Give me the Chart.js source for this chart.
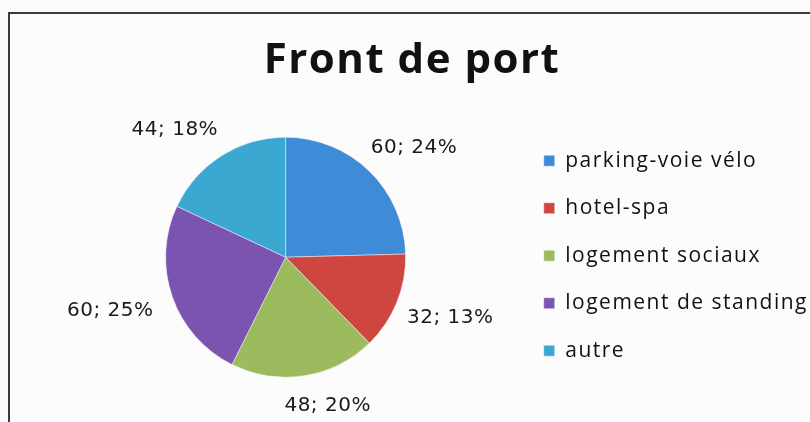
<!DOCTYPE html>
<html>
<head>
<meta charset="utf-8">
<script src="https://cdn.jsdelivr.net/npm/chart.js@4/dist/chart.umd.min.js"></script>
<style>
    html, body { margin: 0; padding: 0; background: #fff; }
    #wrap { width: 810px; height: 422px; }
</style>
</head>
<body>
<div id="wrap"><canvas id="chart" width="810" height="422"></canvas></div>
<script>
const CATEGORIES = ['parking-voie vélo', 'hotel-spa', 'logement sociaux', 'logement de standing', 'autre'];
const VALUES = [60, 32, 48, 60, 44];
const PERCENTS = [24, 13, 20, 25, 18];
const COLORS = ['#3f8bd8', '#cf4640', '#9cba5e', '#7b53b0', '#3ba8d2'];

const TEXT_COLOR = '#1a1a1a';
const LABEL_FONT = '20px "DejaVu Sans"';
const SPACING = '1.5px';

// scanned page background + the frame of the chart
const framePlugin = {
    id: 'frame',
    beforeLayout(chart) {
        chart.ctx.letterSpacing = SPACING;
    },
    afterLayout(chart) {
        // the title sits a bit left of the plot/legend centre in the original
        const t = chart.titleBlock;
        t.left -= 24;
        t.right -= 24;
    },
    beforeDraw(chart) {
        const ctx = chart.ctx;
        ctx.letterSpacing = SPACING;
        ctx.save();
        ctx.fillStyle = '#fcfcfd';
        ctx.fillRect(0, 0, chart.width, chart.height);
        ctx.strokeStyle = '#3a3a3a';
        ctx.lineWidth = 2;
        ctx.beginPath();
        ctx.moveTo(9, chart.height);
        ctx.lineTo(9, 13);
        ctx.lineTo(chart.width, 13);
        ctx.stroke();
        ctx.restore();
    },
};

// "value; pct%" labels outside each slice
const outsideLabels = {
    id: 'outsideLabels',
    afterDatasetsDraw(chart) {
        const ctx = chart.ctx;
        const meta = chart.getDatasetMeta(0);
        ctx.save();
        ctx.font = LABEL_FONT;
        ctx.letterSpacing = '0.5px';
        ctx.fillStyle = TEXT_COLOR;
        ctx.textAlign = 'center';
        ctx.textBaseline = 'middle';
        meta.data.forEach((arc, i) => {
            const p = arc.getProps(['x', 'y', 'startAngle', 'endAngle', 'outerRadius'], true);
            const mid = (p.startAngle + p.endAngle) / 2;
            const cos = Math.cos(mid);
            const sin = Math.sin(mid);
            const text = VALUES[i] + '; ' + PERCENTS[i] + '%';
            const w = ctx.measureText(text).width;
            const h = 26;
            const r = p.outerRadius + 17;
            const ax = p.x + cos * r;
            const ay = p.y + sin * r;
            const dx = (w / 2) * (cos + Math.sign(cos)) / 2;
            const dy = (h / 2) * (sin + Math.sign(sin)) / 2;
            ctx.fillText(text, ax + dx - 4, ay + dy);
        });
        ctx.restore();
    },
};

new Chart(document.getElementById('chart'), {
    type: 'pie',
    data: {
        labels: CATEGORIES,
        datasets: [{
            data: VALUES,
            backgroundColor: COLORS,
            borderColor: 'rgba(255,255,255,0.45)',
            borderWidth: 1,
            radius: 120,
        }],
    },
    options: {
        responsive: false,
        animation: false,
        events: [],
        layout: { padding: { top: 14, left: 54, right: -8, bottom: 4 } },
        plugins: {
            title: {
                display: true,
                text: 'Front de port',
                color: '#111',
                font: { family: '"Open Sans"', size: 42, weight: 'bold' },
                padding: { top: 22, bottom: 10 },
            },
            legend: {
                position: 'right',
                title: {
                    display: true,
                    text: ' ',
                    font: { size: 12 },
                    padding: { top: 33, bottom: 32 },
                },
                labels: {
                    boxWidth: 11,
                    boxHeight: 11,
                    padding: 26.5,
                    color: '#111',
                    font: { family: '"Open Sans"', size: 21 },
                },
            },
            tooltip: { enabled: false },
        },
    },
    plugins: [framePlugin, outsideLabels],
});
</script>
</body>
</html>
